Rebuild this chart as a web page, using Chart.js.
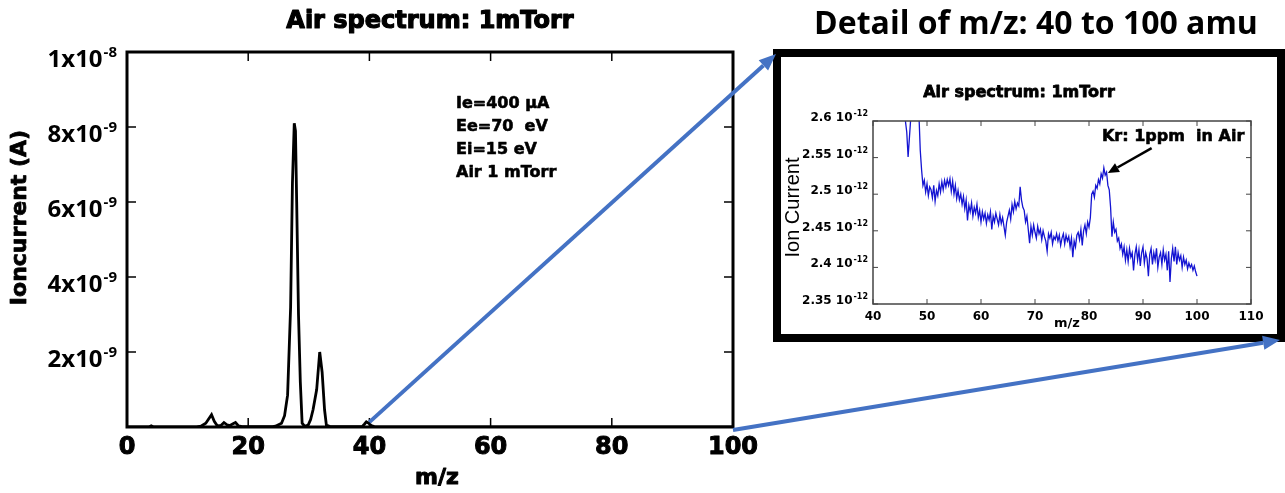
<!DOCTYPE html>
<html>
<head>
<meta charset="utf-8">
<script src="https://cdn.jsdelivr.net/npm/chart.js@4"></script>
<style>
  html, body { margin: 0; padding: 0; background: #fff; width: 1285px; height: 493px; overflow: hidden; }
  #main { position: absolute; left: 0; top: 0; }
  #insetBox { position: absolute; left: 773px; top: 49px; width: 496px; height: 277px; border: 8px solid #000; background: #fff; }
  #inset { position: absolute; left: 0; top: 0; }
  #arrows { position: absolute; left: 0; top: 0; pointer-events: none; }
  #detail { position: absolute; left: 780px; width: 512px; top: 0; line-height: 40px; text-align: center;
            font: bold 32px "Open Sans", sans-serif; color: #000; white-space: nowrap; }
</style>
</head>
<body>
<canvas id="main" width="1285" height="493"></canvas>
<div id="detail">Detail of m/z: 40 to 100 amu</div>
<div id="insetBox"><canvas id="inset" width="496" height="277"></canvas></div>
<canvas id="arrows" width="1285" height="493"></canvas>
<script>
// main spectrum, 0-100 amu (current in A)
const mainMz = [0, 3.6, 4, 4.4, 11.5, 12.2, 13, 13.5, 13.95, 14.4, 14.9, 15.5, 16, 16.5, 17, 17.5, 17.9, 18.4, 19,
  24, 24.5, 25, 25.5, 26, 26.5, 27, 27.3, 27.6, 27.8, 28, 28.3, 28.6, 28.9, 29.3,
  29.9, 30.3, 30.7, 31.3, 31.8, 32.2, 32.6, 32.9, 33.5,
  38.8, 39.2, 39.5, 39.9, 40.3, 40.8, 100];
const mainCurrent = [0, 0, 0.03e-9, 0, 0, 0.02e-9, 0.1e-9, 0.22e-9, 0.33e-9, 0.15e-9, 0.03e-9, 0.04e-9, 0.12e-9, 0.06e-9, 0.04e-9, 0.09e-9, 0.12e-9, 0.03e-9, 0.01e-9,
  0.01e-9, 0.02e-9, 0.06e-9, 0.1e-9, 0.3e-9, 0.85e-9, 3.2e-9, 6.5e-9, 8.1e-9, 7.9e-9, 6.0e-9, 3.0e-9, 1.2e-9, 0.1e-9, 0.02e-9,
  0.05e-9, 0.2e-9, 0.46e-9, 1.0e-9, 2.0e-9, 1.46e-9, 0.46e-9, 0.05e-9, 0.01e-9,
  0.01e-9, 0.08e-9, 0.14e-9, 0.1e-9, 0.04e-9, 0.01e-9, 0];
const mainXTicks = [0, 20, 40, 60, 80, 100];
const mainYTicks = [2e-9, 4e-9, 6e-9, 8e-9, 1e-8];
const mainYMant = ['2x10', '4x10', '6x10', '8x10', '1x10'];
const mainYExp = ['-9', '-9', '-9', '-9', '-8'];
const mainNotes = ['Ie=400 \u03bcA', 'Ee=70  eV', 'Ei=15 eV', 'Air 1 mTorr'];

// detail 46-100 amu (current in units of 1e-12 A)
const insetMz = [46, 46.25, 46.5, 46.75, 47, 47.5, 48, 48.5, 48.75,
  49, 49.25, 49.5, 49.75, 50, 50.25, 50.5, 50.75, 51, 51.25, 51.5, 51.75,
  52, 52.25, 52.5, 52.75, 53, 53.25, 53.5, 53.75, 54, 54.25, 54.5, 54.75,
  55, 55.25, 55.5, 55.75, 56, 56.25, 56.5, 56.75, 57, 57.25, 57.5, 57.75,
  58, 58.25, 58.5, 58.75, 59, 59.25, 59.5, 59.75, 60, 60.25, 60.5, 60.75,
  61, 61.25, 61.5, 61.75, 62, 62.25, 62.5, 62.75, 63, 63.25, 63.5, 63.75,
  64, 64.25, 64.5, 64.75, 65, 65.25, 65.5, 65.75, 66, 66.25, 66.5, 66.75,
  67, 67.25, 67.5, 67.75, 68, 68.25, 68.5, 68.75, 69, 69.25, 69.5, 69.75,
  70, 70.25, 70.5, 70.75, 71, 71.25, 71.5, 71.75, 72, 72.25, 72.5, 72.75,
  73, 73.25, 73.5, 73.75, 74, 74.25, 74.5, 74.75, 75, 75.25, 75.5, 75.75,
  76, 76.25, 76.5, 76.75, 77, 77.25, 77.5, 77.75, 78, 78.25, 78.5, 78.75,
  79, 79.25, 79.5, 79.75, 80, 80.25, 80.5, 80.75, 81, 81.25, 81.5, 81.75,
  82, 82.25, 82.5, 82.75, 83, 83.25, 83.5, 83.75, 84, 84.25, 84.5, 84.75,
  85, 85.25, 85.5, 85.75, 86, 86.25, 86.5, 86.75, 87, 87.25, 87.5, 87.75,
  88, 88.25, 88.5, 88.75, 89, 89.25, 89.5, 89.75, 90, 90.25, 90.5, 90.75,
  91, 91.25, 91.5, 91.75, 92, 92.25, 92.5, 92.75, 93, 93.25, 93.5, 93.75,
  94, 94.25, 94.5, 94.75, 95, 95.25, 95.5, 95.75, 96, 96.25, 96.5, 96.75,
  97, 97.25, 97.5, 97.75, 98, 98.25, 98.5, 98.75, 99, 99.25, 99.5, 99.75, 100];
const insetCurrent = [2.600, 2.585, 2.551, 2.578, 2.605, 2.650, 2.660, 2.610, 2.560,
  2.533, 2.512, 2.519, 2.503, 2.514, 2.498, 2.510, 2.506, 2.495, 2.512, 2.490, 2.505,
  2.498, 2.514, 2.503, 2.517, 2.506, 2.519, 2.510, 2.520, 2.512, 2.521, 2.504, 2.518,
  2.500, 2.512, 2.494, 2.505, 2.492, 2.500, 2.486, 2.497, 2.480, 2.492, 2.464, 2.485,
  2.476, 2.488, 2.470, 2.482, 2.474, 2.486, 2.468, 2.478, 2.462, 2.476, 2.466, 2.474,
  2.460, 2.472, 2.465, 2.476, 2.452, 2.470, 2.462, 2.474, 2.466, 2.458, 2.472, 2.460,
  2.468, 2.456, 2.444, 2.462, 2.470, 2.478, 2.466, 2.486, 2.476, 2.490, 2.480, 2.488,
  2.484, 2.510, 2.492, 2.482, 2.478, 2.462, 2.470, 2.452, 2.433, 2.456, 2.444, 2.458,
  2.448, 2.440, 2.456, 2.446, 2.452, 2.438, 2.450, 2.442, 2.436, 2.422, 2.446, 2.440,
  2.448, 2.432, 2.442, 2.438, 2.446, 2.436, 2.444, 2.430, 2.440, 2.446, 2.432, 2.444,
  2.436, 2.442, 2.428, 2.440, 2.414, 2.436, 2.428, 2.444, 2.448, 2.438, 2.452, 2.430,
  2.450, 2.458, 2.446, 2.462, 2.455, 2.468, 2.500, 2.504, 2.496, 2.512, 2.508, 2.520,
  2.514, 2.528, 2.522, 2.536, 2.526, 2.530, 2.512, 2.506, 2.482, 2.442, 2.462, 2.448,
  2.452, 2.436, 2.440, 2.426, 2.432, 2.418, 2.428, 2.410, 2.424, 2.408, 2.426, 2.414,
  2.420, 2.396, 2.418, 2.428, 2.410, 2.424, 2.402, 2.420, 2.428, 2.406, 2.420, 2.412,
  2.388, 2.418, 2.426, 2.404, 2.420, 2.410, 2.426, 2.400, 2.414, 2.420, 2.404, 2.424,
  2.410, 2.418, 2.396, 2.422, 2.380, 2.412, 2.426, 2.408, 2.428, 2.404, 2.420, 2.410,
  2.416, 2.400, 2.414, 2.404, 2.410, 2.398, 2.406, 2.400, 2.404, 2.396, 2.402, 2.394, 2.388];
const insetXTicks = [40, 50, 60, 70, 80, 90, 100, 110];
const insetYTicks = [2.35, 2.4, 2.45, 2.5, 2.55, 2.6];
const krLabel = { x: 82.4, y: 2.578 };
const krArrowFrom = { x: 91.6, y: 2.563 };
const krArrowTo = { x: 83.5, y: 2.529 };

function line(ctx, x1, y1, x2, y2) {
  ctx.beginPath(); ctx.moveTo(x1, y1); ctx.lineTo(x2, y2); ctx.stroke();
}

// heavy text: fill plus a thin outline, to get close to the black-weight fonts of the original
function heavyText(ctx, text, x, y, w) {
  ctx.save();
  ctx.lineWidth = w; ctx.strokeStyle = ctx.fillStyle; ctx.lineJoin = 'round';
  ctx.strokeText(text, x, y);
  ctx.fillText(text, x, y);
  ctx.restore();
}

function arrow(ctx, x1, y1, x2, y2, color, width, headLen, headHalf) {
  const ang = Math.atan2(y2 - y1, x2 - x1);
  const bx = x2 - headLen * Math.cos(ang), by = y2 - headLen * Math.sin(ang);
  ctx.save();
  ctx.strokeStyle = color; ctx.fillStyle = color; ctx.lineWidth = width;
  line(ctx, x1, y1, bx, by);
  ctx.beginPath();
  ctx.moveTo(x2, y2);
  ctx.lineTo(bx + headHalf * Math.sin(ang), by - headHalf * Math.cos(ang));
  ctx.lineTo(bx - headHalf * Math.sin(ang), by + headHalf * Math.cos(ang));
  ctx.closePath(); ctx.fill();
  ctx.restore();
}

const mainDecor = {
  id: 'mainDecor',
  afterDraw(chart) {
    const { ctx, chartArea: a, scales: { x, y } } = chart;
    ctx.save();
    ctx.fillStyle = '#000'; ctx.strokeStyle = '#000';
    ctx.lineWidth = 3;
    ctx.strokeRect(a.left, a.top, a.right - a.left, a.bottom - a.top);
    ctx.lineWidth = 1.5;
    mainXTicks.forEach(v => {
      const px = x.getPixelForValue(v);
      line(ctx, px, a.top, px, a.top + 9);
      line(ctx, px, a.bottom, px, a.bottom - 9);
    });
    mainYTicks.forEach(v => {
      const py = y.getPixelForValue(v);
      line(ctx, a.left, py, a.left + 9, py);
      line(ctx, a.right, py, a.right - 9, py);
    });

    // x tick labels
    ctx.font = 'bold 24px "DejaVu Sans"';
    ctx.textAlign = 'center'; ctx.textBaseline = 'alphabetic';
    mainXTicks.forEach(v => heavyText(ctx, String(v), x.getPixelForValue(v), a.bottom + 27, 1));

    // y tick labels with superscript exponent
    ctx.textAlign = 'right';
    mainYTicks.forEach((v, i) => {
      const base = y.getPixelForValue(v) + 15;
      ctx.font = 'bold 15px "Open Sans"';
      const ew = ctx.measureText(mainYExp[i]).width;
      ctx.fillText(mainYExp[i], a.left - 10, base - 10);
      ctx.font = 'bold 24px "Open Sans"';
      ctx.fillText(mainYMant[i], a.left - 11 - ew, base);
    });

    // titles
    ctx.textAlign = 'center';
    ctx.font = 'bold 24px "DejaVu Sans"';
    heavyText(ctx, 'Air spectrum: 1mTorr', (a.left + a.right) / 2, 28, 1.2);
    ctx.font = 'bold 22px "DejaVu Sans"';
    heavyText(ctx, 'm/z', (a.left + a.right) / 2 + 7, 484, 1);
    ctx.save();
    ctx.translate(20, (a.top + a.bottom) / 2 - 22);
    ctx.rotate(-Math.PI / 2);
    ctx.textBaseline = 'middle';
    heavyText(ctx, 'Ioncurrent (A)', 0, 0, 0.8);
    ctx.restore();

    // run conditions
    ctx.textAlign = 'left';
    ctx.font = 'bold 16px "DejaVu Sans"';
    mainNotes.forEach((t, i) => heavyText(ctx, t, a.left + 329, a.top + 56 + i * 23, 0.6));
    ctx.restore();
  }
};

const insetDecor = {
  id: 'insetDecor',
  afterDraw(chart) {
    const { ctx, chartArea: a, scales: { x, y } } = chart;
    ctx.save();
    ctx.strokeStyle = '#444'; ctx.fillStyle = '#000';
    ctx.lineWidth = 1.5;
    ctx.strokeRect(a.left, a.top, a.right - a.left, a.bottom - a.top);
    ctx.lineWidth = 1;
    insetXTicks.forEach(v => {
      const px = x.getPixelForValue(v);
      line(ctx, px, a.top, px, a.top + 5);
      line(ctx, px, a.bottom, px, a.bottom - 5);
    });
    insetYTicks.forEach(v => {
      const py = y.getPixelForValue(v);
      line(ctx, a.left, py, a.left + 5, py);
      line(ctx, a.right, py, a.right - 5, py);
    });

    ctx.font = 'bold 12px "DejaVu Sans"';
    ctx.textAlign = 'center'; ctx.textBaseline = 'alphabetic';
    insetXTicks.forEach(v => ctx.fillText(String(v), x.getPixelForValue(v), a.bottom + 16));

    ctx.textAlign = 'right';
    insetYTicks.forEach(v => {
      const base = y.getPixelForValue(v);
      ctx.font = 'bold 8px "DejaVu Sans"';
      const ew = ctx.measureText('-12').width;
      ctx.fillText('-12', a.left - 5, base - 5);
      ctx.font = 'bold 12px "DejaVu Sans"';
      ctx.fillText(String(v) + ' 10', a.left - 6 - ew, base);
    });

    ctx.textAlign = 'center';
    ctx.font = 'bold 16px "DejaVu Sans"';
    heavyText(ctx, 'Air spectrum: 1mTorr', 238, 40, 0.8);
    ctx.font = 'bold 13px "DejaVu Sans"';
    ctx.fillText('m/z', a.left + 194, a.bottom + 23);

    ctx.save();
    ctx.translate(12, (a.top + a.bottom) / 2 - 5);
    ctx.rotate(-Math.PI / 2);
    ctx.textBaseline = 'middle';
    ctx.font = '20px "Liberation Sans"';
    ctx.fillText('Ion Current', 0, 0);
    ctx.restore();

    ctx.textAlign = 'left'; ctx.textBaseline = 'middle';
    ctx.font = 'bold 16px "DejaVu Sans"';
    heavyText(ctx, 'Kr: 1ppm  in Air', x.getPixelForValue(krLabel.x), y.getPixelForValue(krLabel.y), 0.6);
    arrow(ctx, x.getPixelForValue(krArrowFrom.x), y.getPixelForValue(krArrowFrom.y),
      x.getPixelForValue(krArrowTo.x), y.getPixelForValue(krArrowTo.y), '#000', 2.5, 11, 5);
    ctx.restore();
  }
};

const mainChart = new Chart(document.getElementById('main'), {
  type: 'line',
  data: {
    datasets: [{
      data: mainMz.map((m, i) => ({ x: m, y: mainCurrent[i] })),
      borderColor: '#000',
      borderWidth: 2.8,
      pointRadius: 0,
      tension: 0,
      fill: false
    }]
  },
  options: {
    responsive: false,
    animation: false,
    events: [],
    layout: { padding: { left: 127, top: 52, right: 552, bottom: 66 } },
    plugins: { legend: { display: false }, tooltip: { enabled: false } },
    scales: {
      x: { type: 'linear', min: 0, max: 100, display: false },
      y: { type: 'linear', min: 0, max: 1e-8, display: false }
    }
  },
  plugins: [mainDecor]
});

const insetChart = new Chart(document.getElementById('inset'), {
  type: 'line',
  data: {
    datasets: [{
      data: insetMz.map((m, i) => ({ x: m, y: insetCurrent[i] })),
      borderColor: '#1414d2',
      borderWidth: 1.3,
      pointRadius: 0,
      tension: 0,
      fill: false
    }]
  },
  options: {
    responsive: false,
    animation: false,
    events: [],
    layout: { padding: { left: 92, top: 64, right: 26, bottom: 30 } },
    plugins: { legend: { display: false }, tooltip: { enabled: false } },
    scales: {
      x: { type: 'linear', min: 40, max: 110, display: false },
      y: { type: 'linear', min: 2.35, max: 2.6, display: false }
    }
  },
  plugins: [insetDecor]
});

// blue zoom arrows from the main plot to the detail box
const ov = document.getElementById('arrows').getContext('2d');
const box = document.getElementById('insetBox').getBoundingClientRect();
const sx = mainChart.scales.x, sy = mainChart.scales.y;
arrow(ov, sx.getPixelForValue(40), sy.getPixelForValue(0.13e-9), box.left + 3, box.top + 5, '#4472c4', 4, 17, 7);
arrow(ov, sx.getPixelForValue(100), sy.getPixelForValue(-0.08e-9), box.right - 5, box.bottom - 2, '#4472c4', 4, 17, 7);
</script>
</body>
</html>
